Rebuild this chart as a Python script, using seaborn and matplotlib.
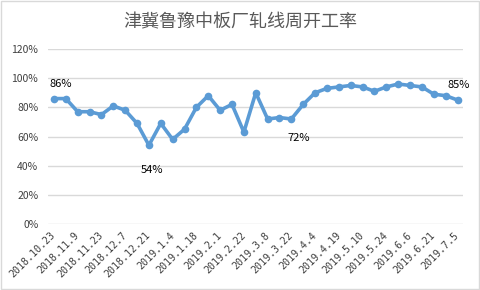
import matplotlib
matplotlib.use("Agg")
import matplotlib.pyplot as plt
import seaborn as sns
import pandas as pd
from matplotlib.patches import Rectangle

title = "津冀鲁豫中板厂轧线周开工率"
dates = [
    "2018.10.23", "2018.11.2", "2018.11.9", "2018.11.16", "2018.11.23", "2018.11.30",
    "2018.12.7", "2018.12.14", "2018.12.21", "2018.12.28", "2019.1.4", "2019.1.11",
    "2019.1.18", "2019.1.25", "2019.2.1", "2019.2.15", "2019.2.22", "2019.3.1",
    "2019.3.8", "2019.3.15", "2019.3.22", "2019.3.29", "2019.4.4", "2019.4.12",
    "2019.4.19", "2019.4.26", "2019.5.10", "2019.5.17", "2019.5.24", "2019.5.31",
    "2019.6.6", "2019.6.14", "2019.6.21", "2019.6.28", "2019.7.5",
]
rates = [
    86, 86, 77, 77, 75, 81, 78, 69, 54, 69, 58, 65, 80, 88, 78, 82, 63, 90,
    72, 73, 72, 82, 90, 93, 94, 95, 94, 91, 94, 96, 95, 94, 89, 88, 85,
]
yticks = [0, 20, 40, 60, 80, 100, 120]
# index -> (x offset, y offset) in points
labeled = {0: (5, 7), 8: (2, -14), 20: (5, -10), 34: (1, 7)}

sns.set_theme(style="white")
plt.rcParams["font.family"] = ["Noto Sans CJK SC", "DejaVu Sans"]

df = pd.DataFrame({"date": dates, "rate": rates})
fig = plt.figure(figsize=(4.8, 2.9), dpi=100)
ax = fig.add_axes([0.1, 0.2276, 0.8656, 0.6034])

sns.lineplot(data=df, x="date", y="rate", sort=False, ax=ax, color="#5B9BD5",
             linewidth=2.6, marker="o", markersize=5.5, markeredgewidth=0)

ax.set_ylim(0, 120)
ax.set_xlim(-0.5, len(dates) - 0.5)
ax.set_yticks(yticks)
ax.set_yticklabels([f"{v}%" for v in yticks], fontsize=7.5, color="#404040")
ax.set_xticks(range(0, len(dates), 2))
ax.set_xticklabels(dates[::2], rotation=45, ha="right", va="center",
                   rotation_mode="anchor", fontsize=7.2, color="#404040",
                   family=["DejaVu Sans Mono"])
ax.tick_params(axis="y", length=0, pad=7)
ax.tick_params(axis="x", length=0, pad=7)
ax.grid(axis="y", color="#D9D9D9", linewidth=1)
ax.set_axisbelow(True)
for s in ax.spines.values():
    s.set_visible(False)
ax.set_xlabel("")
ax.set_ylabel("")

for i, (dx, dy) in labeled.items():
    ax.annotate(f"{rates[i]}%", (i, rates[i]), xytext=(dx, dy), textcoords="offset points",
                ha="center", va="bottom" if dy > 0 else "top", fontsize=8, color="#000000")

fig.text(0.5, 0.924, title, ha="center", va="center", fontsize=13, color="#595959")
fig.patches.append(Rectangle((0.002, 0.003), 0.996, 0.994, transform=fig.transFigure,
                             fill=False, edgecolor="#D9D9D9", linewidth=1))
fig.savefig("out.png", dpi=100)
